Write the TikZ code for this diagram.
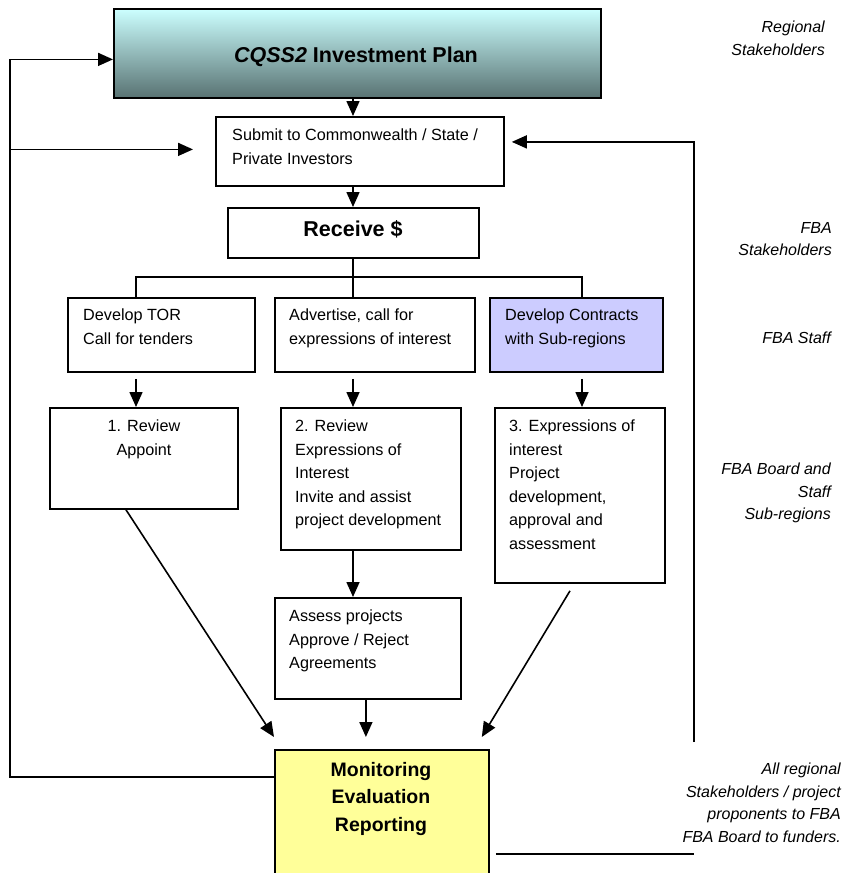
\documentclass[tikz,border=0pt]{standalone}
\usepackage{fontspec}
\setmainfont{Liberation Sans}
\usetikzlibrary{arrows.meta}
\definecolor{planTop}{HTML}{CCFFFF}
\definecolor{planBot}{HTML}{587272}
\definecolor{lav}{HTML}{CCCCFF}
\definecolor{monY}{HTML}{FFFF99}
\begin{document}
\begin{tikzpicture}[x=1pt,y=-1pt,
  box/.style={draw=black, line width=1.8pt, inner sep=0pt, anchor=north west, rectangle},
  body/.style={font=\fontsize{16.2}{23.5}\selectfont, inner sep=0pt, align=left, anchor=north west},
  side/.style={font=\itshape\fontsize{16}{22.5}\selectfont, inner sep=0pt, align=right, anchor=north east},
  conn/.style={line width=1.6pt},
  arr/.style={conn, -{Triangle[length=15pt,width=13pt]}},
]
\useasboundingbox (0,0) rectangle (843,873);

% boxes
\node[box, minimum width=487pt, minimum height=89pt, top color=planTop, bottom color=planBot] (plan) at (113,8) {};
\node[box, minimum width=288pt, minimum height=69pt] (submit) at (215,116) {};
\node[box, minimum width=251pt, minimum height=50pt] (receive) at (227,207) {};
\node[box, minimum width=187pt, minimum height=74pt] (tor) at (67,297) {};
\node[box, minimum width=200pt, minimum height=74pt] (adv) at (274,297) {};
\node[box, minimum width=173pt, minimum height=74pt, fill=lav] (con) at (489,297) {};
\node[box, minimum width=188pt, minimum height=101pt] (rev1) at (49,407) {};
\node[box, minimum width=180pt, minimum height=142pt] (rev2) at (280,407) {};
\node[box, minimum width=170pt, minimum height=175pt] (eoi) at (494,407) {};
\node[box, minimum width=186pt, minimum height=101pt] (assess) at (274,597) {};
\node[box, minimum width=214pt, minimum height=140pt, fill=monY] (mon) at (274,749) {};

% box texts
\node[font=\bfseries\fontsize{21.5}{25}\selectfont, inner sep=0pt] (plantxt) at (356,57) {\textit{CQSS2} Investment Plan};
\node[body] (submittxt) at (232,129) {Submit to Commonwealth / State /\\Private Investors};
\node[font=\bfseries\fontsize{21.5}{25}\selectfont, inner sep=0pt] (receivetxt) at (353,229) {Receive \$};
\node[body] (tortxt) at (83,309) {Develop TOR\\Call for tenders};
\node[body] (advtxt) at (289,309) {Advertise, call for\\expressions of interest};
\node[body] (contxt) at (505,309) {Develop Contracts\\with Sub-regions};
\node[body, align=center, anchor=north] (rev1txt) at (144,420) {1. Review\\Appoint};
\node[body] (rev2txt) at (295,420) {2. Review\\Expressions of\\Interest\\Invite and assist\\project development};
\node[body] (eoitxt) at (509,420) {3. Expressions of\\interest\\Project\\development,\\approval and\\assessment};
\node[body] (assesstxt) at (289,610) {Assess projects\\Approve / Reject\\Agreements};
\node[font=\bfseries\fontsize{19.5}{27.5}\selectfont, inner sep=0pt, align=center, anchor=north] (montxt) at (381,762) {Monitoring\\Evaluation\\Reporting};

% side labels
\node[side] (s1) at (825,21) {Regional\\Stakeholders};
\node[side] (s2) at (832,222) {FBA\\Stakeholders};
\node[side] (s3) at (831,332) {FBA Staff};
\node[side] (s4) at (831,463) {FBA Board and\\Staff\\Sub-regions};
\node[side] (s5) at (841,763) {All regional\\Stakeholders / project\\proponents to FBA\\FBA Board to funders.};

% coordinates
\coordinate (c1) at (136,0);
\coordinate (c2) at (353,0);
\coordinate (c3) at (582,0);
\coordinate (fork) at (353,277);

% main flow
\draw[arr] (plan.south -| c2) -- (submit.north -| c2);
\draw[arr] (submit.south -| c2) -- (receive.north -| c2);
\draw[conn] (receive.south -| c2) -- (fork);
\draw[conn] (tor.north -| c1) |- (fork) -| (con.north -| c3);
\draw[conn] (fork) -- (adv.north -| c2);
\draw[arr] ([yshift=-6pt]tor.south -| c1) -- (rev1.north -| c1);
\draw[arr] ([yshift=-6pt]adv.south -| c2) -- (rev2.north -| c2);
\draw[arr] ([yshift=-6pt]con.south -| c3) -- (eoi.north -| c3);
\draw[arr] (rev2.south -| c2) -- (assess.north -| c2);
\draw[arr] ([xshift=77pt]rev1.south west) -- ([yshift=12pt]mon.north west);
\draw[arr] ([xshift=-2pt]assess.south) -- ([xshift=-16pt,yshift=12pt]mon.north);
\draw[arr] ([xshift=76pt,yshift=-7pt]eoi.south west) -- ([xshift=-8pt,yshift=12pt]mon.north east);

% feedback left
\coordinate (lf) at ([yshift=-28pt]mon.north west);
\coordinate (lx) at (10,0);
\draw[arr] (lf) -| ([yshift=-6pt]plan.west -| lx) -- ([yshift=-6pt]plan.west);
\draw[arr] ([yshift=2pt]submit.west -| lx) -- ([xshift=-22pt,yshift=2pt]submit.west);
% feedback right
\coordinate (rs) at ([xshift=6pt]mon.north east |- 0,854);
\coordinate (rx) at (694,0);
\draw[conn] (rs) -- (rx |- rs);
\draw[arr] (rx |- 0,742) |- ([xshift=7pt,yshift=9.5pt]submit.east);
\end{tikzpicture}
\end{document}
